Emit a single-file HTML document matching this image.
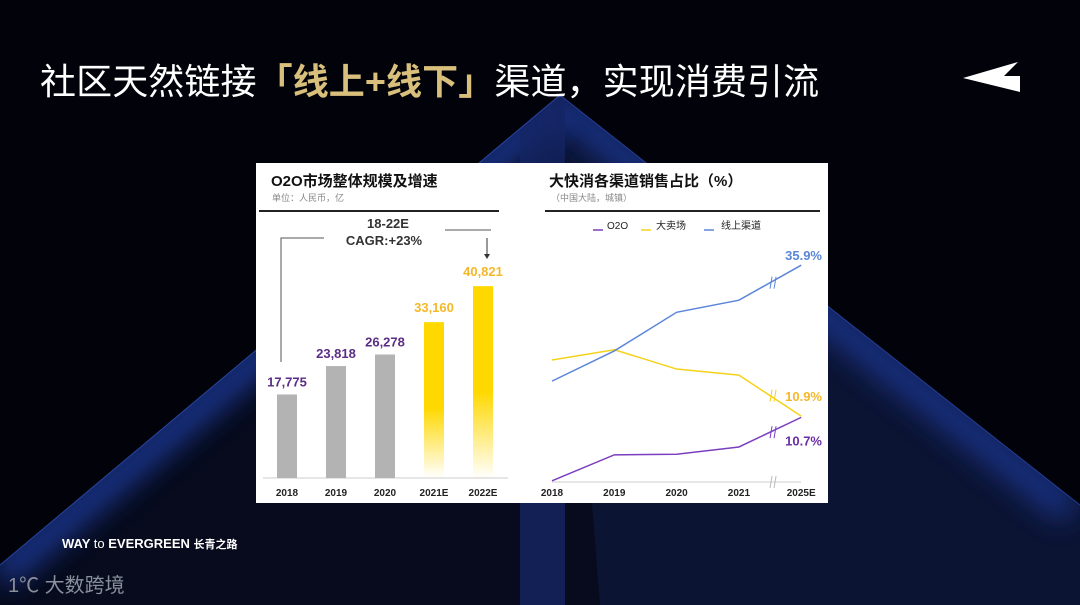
<!DOCTYPE html>
<html><head><meta charset="utf-8">
<style>
body{margin:0;width:1080px;height:605px;overflow:hidden;background:#02030a;font-family:"Liberation Sans","Noto Sans CJK SC",sans-serif;}
#wrap{position:relative;width:1080px;height:605px;}
svg{position:absolute;left:0;top:0;}
.title{position:absolute;left:40px;top:53px;font-size:36px;color:#fff;white-space:nowrap;font-family:"Liberation Sans","Noto Sans CJK SC",sans-serif;letter-spacing:0.1px;}
.title b{color:#d9bf7c;}
</style></head><body>
<div id="wrap">
<svg width="1080" height="605">
<defs>
<filter id="blur" x="-20%" y="-20%" width="140%" height="140%"><feGaussianBlur stdDeviation="14"/></filter>
<linearGradient id="gy" x1="0" y1="0" x2="0" y2="1"><stop offset="0" stop-color="#ffd800"/><stop offset="0.55" stop-color="#ffd800"/><stop offset="1" stop-color="#ffd800" stop-opacity="0"/></linearGradient>
<clipPath id="pyr"><polygon points="560,95 1080,505 1080,605 0,605 0,565"/></clipPath>
</defs>
<polygon points="560,95 1080,505 1080,605 0,605 0,565" fill="#070b1d"/>
<g clip-path="url(#pyr)">
<polygon points="560,95 1080,505 1080,605 600,605" fill="#0c1434"/>
<line x1="0" y1="575" x2="560" y2="105" stroke="#1f3a9a" stroke-width="30" filter="url(#blur)" opacity="0.9"/>
<line x1="560" y1="105" x2="1070" y2="510" stroke="#1f3a9a" stroke-width="30" filter="url(#blur)" opacity="0.8"/>
<rect x="520" y="95" width="45" height="510" fill="#152565" opacity="0.8"/>
</g>
<line x1="0" y1="565" x2="560" y2="95" stroke="#3556c8" stroke-width="1" opacity="0.7"/>
<line x1="560" y1="95" x2="1080" y2="505" stroke="#3556c8" stroke-width="1" opacity="0.6"/>
<polygon points="963,78 1018,62 1004,76 1020,76 1020,92" fill="#fff"/>
<text x="62" y="548" fill="#fff" font-size="13" font-weight="bold">WAY <tspan font-weight="normal">to</tspan> EVERGREEN <tspan font-size="11">长青之路</tspan></text>
<text x="8" y="592" fill="#8a8f9c" font-size="20">1℃ 大数跨境</text>
</svg>
<div class="title">社区天然链接<b>「线上+线下」</b>渠道，实现消费引流</div>

<svg width="1080" height="605" id="charts">
<rect x="256" y="163" width="572" height="340" fill="#fff"/>
<text x="271" y="186" font-size="15" font-weight="bold" fill="#111">O2O市场整体规模及增速</text>
<text x="272" y="201" font-size="9" fill="#888">单位：人民币，亿</text>
<line x1="259" y1="211" x2="499" y2="211" stroke="#222" stroke-width="2"/>
<text x="388" y="228" font-size="13" font-weight="bold" fill="#333" text-anchor="middle">18-22E</text>
<text x="384" y="245" font-size="13" font-weight="bold" fill="#333" text-anchor="middle">CAGR:+23%</text>
<polyline points="281,362 281,238 324,238" fill="none" stroke="#555" stroke-width="1"/>
<line x1="445" y1="230" x2="491" y2="230" stroke="#555" stroke-width="1"/>
<line x1="487" y1="238" x2="487" y2="256" stroke="#333" stroke-width="1"/>
<polygon points="484,254 490,254 487,259" fill="#333"/>
<line x1="263" y1="478" x2="508" y2="478" stroke="#ccc" stroke-width="1"/>
<g id="bars"></g>
<text x="549" y="186" font-size="15" font-weight="bold" fill="#111">大快消各渠道销售占比（%）</text>
<text x="551" y="201" font-size="9" fill="#888">（中国大陆，城镇）</text>
<line x1="545" y1="211" x2="820" y2="211" stroke="#222" stroke-width="2"/>
<g id="legend"></g>
<line x1="552" y1="482" x2="801" y2="482" stroke="#ccc" stroke-width="1"/>
<g id="lines"></g>
</svg>
</div>
<script>
const barCats=["2018","2019","2020","2021E","2022E"];
const barVals=[17775,23818,26278,33160,40821];
const barLabels=["17,775","23,818","26,278","33,160","40,821"];
const barForecast=[false,false,false,true,true];
const lineCats=["2018","2019","2020","2021","2025E"];
const seriesNames=["O2O","大卖场","线上渠道"];
const o2oVals=[0.2,4.5,4.6,5.8,10.7];
const hyperVals=[20.2,21.9,18.7,17.7,10.9];
const onlineVals=[16.7,21.7,28.1,30.1,35.9];
const endLabels=["10.7%","10.9%","35.9%"];

const NS="http://www.w3.org/2000/svg";
function mk(tag,attrs,parent,text){const e=document.createElementNS(NS,tag);for(const k in attrs)e.setAttribute(k,attrs[k]);if(text!=null)e.textContent=text;parent.appendChild(e);return e;}

const bx=i=>287+i*49, bh=v=>v*0.0047, base=478;
const bg=document.getElementById('bars');
barVals.forEach((v,i)=>{
  const h=bh(v);
  const r=mk('rect',{x:bx(i)-10,y:base-h,width:20,height:h,fill:barForecast[i]?'url(#gy)':'#b3b3b3'},bg);
  
  
  const t=mk('text',{x:bx(i),y:base-h-(barForecast[i]?10:8),'font-size':13,'font-weight':'bold','text-anchor':'middle',fill:barForecast[i]?'#f5b82a':'#5b2d84'},bg,barLabels[i]);
  
  
  const c=mk('text',{x:bx(i),y:496,'font-size':10,'font-weight':'bold','text-anchor':'middle',fill:'#222'},bg,barCats[i]);
  
  
});

const colors=["#7b3fbf","#f5d21a","#5b86d8"];
const lblColors=["#6a2fa6","#f5b82a","#5b86d8"];
const lx=i=>552+i*62.3, ly=v=>482-v*6.04;
const lg=document.getElementById('legend');
const legX=[593,641,704];
const legTX=[607,656,721];
seriesNames.forEach((n,i)=>{
  const g=mk('g',{},lg);
  
  
  mk('line',{x1:legX[i],y1:230,x2:legX[i]+10,y2:230,stroke:colors[i],'stroke-width':1.5},g);
  mk('text',{x:legTX[i],y:229,'font-size':10,fill:'#222'},g,n);
});
const lgEl=document.getElementById('lines');
[o2oVals,hyperVals,onlineVals].forEach((vals,s)=>{
  const pts=vals.map((v,i)=>lx(i)+','+ly(v)).join(' ');
  const p=mk('polyline',{points:pts,fill:'none',stroke:colors[s],'stroke-width':1.5},lgEl);
  
  
  const mx=(lx(3)+lx(4))/2+3, my=(ly(vals[3])+ly(vals[4]))/2;
  mk('path',{d:`M${mx-3},${my+6} L${mx-1},${my-6} M${mx+1},${my+6} L${mx+3},${my-6}`,stroke:colors[s],'stroke-width':1,fill:'none'},lgEl);
  const t=mk('text',{x:822,y:ly(vals[4])+(s==2?-5:s==1?-15:28),'font-size':13,'font-weight':'bold','text-anchor':'end',fill:lblColors[s]},lgEl,endLabels[s]);
  
  
});
const bxm=(lx(3)+lx(4))/2+3;
mk('path',{d:`M${bxm-3},${488} L${bxm-1},${476} M${bxm+1},${488} L${bxm+3},${476}`,stroke:'#bbb','stroke-width':1,fill:'none'},lgEl);
lineCats.forEach((c,i)=>{
  const t=mk('text',{x:lx(i),y:496,'font-size':10,'font-weight':'bold','text-anchor':'middle',fill:'#222'},lgEl,c);
  
  
});
</script>
</body></html>
